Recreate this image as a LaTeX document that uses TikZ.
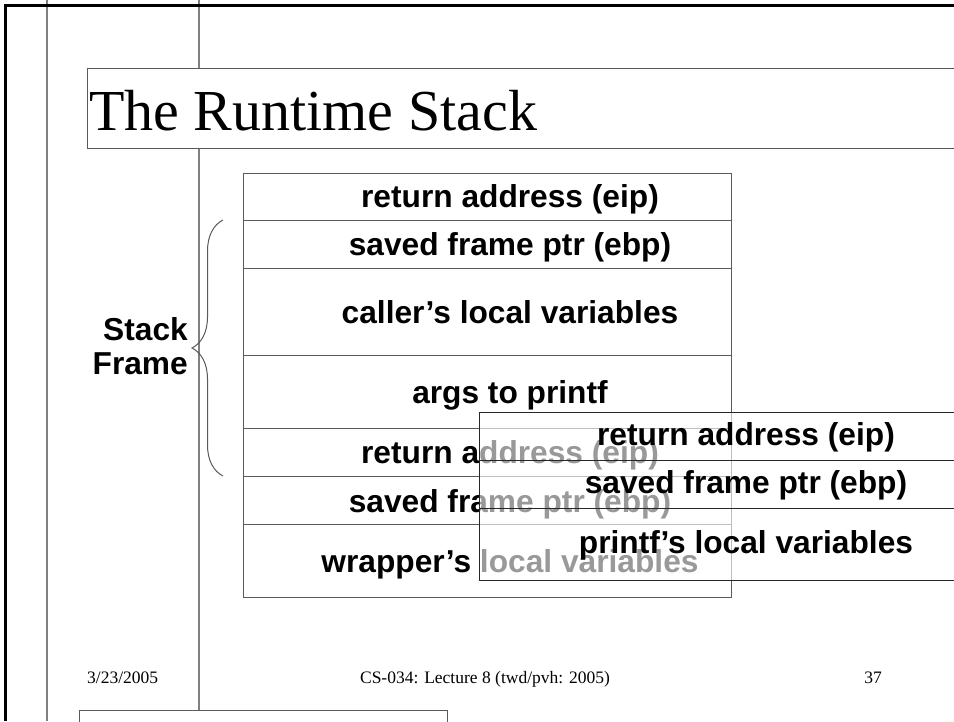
\documentclass[tikz,border=0pt]{standalone}
\usepackage{fontspec}
\setmainfont{Liberation Serif}
\setsansfont{Liberation Sans}
\usetikzlibrary{decorations.pathreplacing}
\definecolor{guidegray}{RGB}{128,128,128}
\definecolor{boxgray}{RGB}{90,90,90}
\definecolor{textdark}{RGB}{0,0,0}

\begin{document}
\begin{tikzpicture}[
    x=1pt, y=-1pt,
    slot/.style={rectangle, draw=boxgray, line width=1.3pt, minimum width=488pt, minimum height=#1, inner sep=0pt, anchor=north west},
    newslot/.style={rectangle, draw=textdark!85, fill=white, fill opacity=0.6, line width=1.3pt, minimum width=534pt, minimum height=#1, inner sep=0pt, anchor=north west},
    slottext/.style={anchor=base, inner sep=0pt, font=\sffamily\bfseries\fontsize{31.7}{34}\selectfont, color=textdark},
    footer/.style={anchor=base, inner sep=0pt, font=\fontsize{17.5}{20}\selectfont, color=textdark},
    guide/.style={draw=guidegray, line width=1.3pt},
]
\useasboundingbox (0,0) rectangle (954,721);
\clip (0,0) rectangle (954,721);

% Slide guide lines
\draw[guide] (47,0) -- (47,721);
\draw[guide] (199,0) -- (199,710);

% Title
\node[rectangle, draw=boxgray, fill=white, line width=1pt, minimum width=900pt, minimum height=80pt, inner sep=0pt, anchor=north west] (titlebox) at (87,68) {};
\node[anchor=base west, inner sep=0pt, font=\fontsize{58}{60}\selectfont] (title) at (89,130) {The Runtime Stack};

% Caller's stack
\node[slot=47pt] (ret1) at (243,173) {};
\node[slot=48pt] (ebp1) at (243,220) {};
\node[slot=87pt] (callervars) at (243,268) {};
\node[slot=73pt] (args) at (243,355) {};
\node[slot=48pt] (ret2) at (243,428) {};
\node[slot=48pt] (ebp2) at (243,476) {};
\node[slot=73pt] (wrapvars) at (243,524) {};

\node[slottext] (ret1text) at (510,207) {return address (eip)};
\node[slottext] (ebp1text) at (510,255) {saved frame ptr (ebp)};
\node[slottext] (callertext) at (510,323) {caller’s local variables};
\node[slottext] (argstext) at (510,403) {args to printf};
\node[slottext] (ret2text) at (510,463) {return address (eip)};
\node[slottext] (ebp2text) at (510,512) {saved frame ptr (ebp)};
\node[slottext] (wraptext) at (510,572) {wrapper’s local variables};

% printf's frame on top
\node[newslot=48pt] (ret3) at (479,412) {};
\node[newslot=48pt] (ebp3) at (479,460) {};
\node[newslot=72pt] (printfvars) at (479,508) {};

\node[slottext] (ret3text) at (746,445) {return address (eip)};
\node[slottext] (ebp3text) at (746,493) {saved frame ptr (ebp)};
\node[slottext] (printftext) at (746,553) {printf’s local variables};

% Stack frame brace
\draw[draw=boxgray, line width=1pt, decorate, decoration={brace, amplitude=31pt}] (223,476) -- (223,220);
\node[slottext, anchor=base east, align=right] (framelabel) at (188,374) {Stack\\Frame};

% Footer
\node[footer, anchor=base west] (date) at (87,683) {3/23/2005};
\node[footer] (course) at (485,683) {CS-034: Lecture 8 (twd/pvh: 2005)};
\node[footer, anchor=base east] (page) at (882,683) {37};

% Notes box
\node[rectangle, draw=boxgray, line width=1pt, minimum width=368pt, minimum height=40pt, inner sep=0pt, anchor=north west] (notes) at (79,710) {};

% Slide frame
\draw[line width=3pt] (5,721) -- (5,5) -- (954,5);

\end{tikzpicture}
\end{document}
